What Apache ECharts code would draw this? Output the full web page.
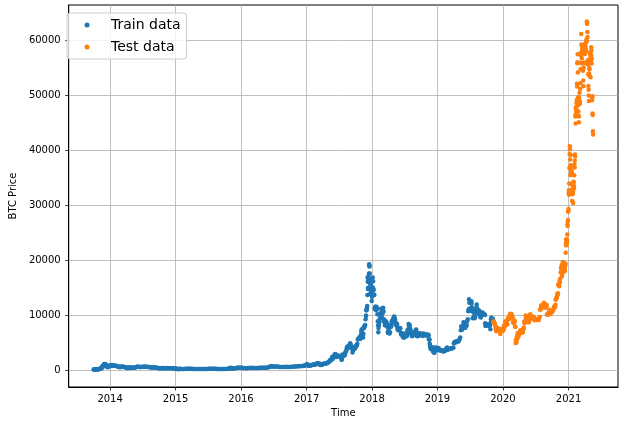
<!DOCTYPE html>
<html><head><meta charset="utf-8">
<script src="https://cdn.jsdelivr.net/npm/echarts@6/dist/echarts.min.js"></script>
<style>html,body{margin:0;padding:0;background:#fff}#c{width:624px;height:425px}</style>
</head><body><div id="c"></div>
<script>
// ---- data (BTC price) ----
const train2013 = [["2013-10-01",123],["2013-10-04",121],["2013-10-07",122],["2013-10-10",125],["2013-10-13",131],["2013-10-16",142],["2013-10-19",150],["2013-10-22",176],["2013-10-25",180],["2013-10-28",196],["2013-10-31",203],
["2013-11-03",218],["2013-11-06",255],["2013-11-09",330],["2013-11-12",355],["2013-11-14",420],["2013-11-16",450],["2013-11-18",700],["2013-11-19",560],["2013-11-21",740],["2013-11-23",820],["2013-11-25",790],["2013-11-27",960],["2013-11-29",1120],
["2013-12-01",950],["2013-12-03",1050],["2013-12-04",1150],["2013-12-06",850],["2013-12-08",720],["2013-12-10",980],["2013-12-12",870],["2013-12-14",870],["2013-12-16",690],["2013-12-18",530],["2013-12-20",640],["2013-12-22",620],["2013-12-25",680],["2013-12-28",720],["2013-12-31",760]];
const train2014 = [["2014-01-01",770],["2014-01-05",930],["2014-01-08",850],["2014-01-12",870],["2014-01-16",840],["2014-01-20",870],["2014-01-24",820],["2014-01-28",830],
["2014-02-02",830],["2014-02-06",770],["2014-02-10",690],["2014-02-14",660],["2014-02-18",620],["2014-02-22",610],["2014-02-25",540],["2014-02-28",580],
["2014-03-04",670],["2014-03-08",630],["2014-03-12",630],["2014-03-16",630],["2014-03-20",590],["2014-03-24",580],["2014-03-28",480],
["2014-04-01",480],["2014-04-05",460],["2014-04-10",360],["2014-04-14",460],["2014-04-18",500],["2014-04-22",490],["2014-04-26",460],["2014-04-30",450],
["2014-05-04",440],["2014-05-08",445],["2014-05-12",440],["2014-05-16",450],["2014-05-20",490],["2014-05-24",520],["2014-05-28",580],
["2014-06-03",665],["2014-06-08",650],["2014-06-13",600],["2014-06-18",610],["2014-06-23",590],["2014-06-28",600],
["2014-07-03",650],["2014-07-08",620],["2014-07-13",630],["2014-07-18",630],["2014-07-23",620],["2014-07-28",590],
["2014-08-02",590],["2014-08-07",590],["2014-08-12",570],["2014-08-18",470],["2014-08-23",510],["2014-08-28",510],
["2014-09-02",480],["2014-09-07",480],["2014-09-12",480],["2014-09-17",460],["2014-09-22",400],["2014-09-27",400],
["2014-10-02",375],["2014-10-06",330],["2014-10-11",360],["2014-10-16",395],["2014-10-21",385],["2014-10-26",355],["2014-10-31",340],
["2014-11-05",340],["2014-11-10",360],["2014-11-13",420],["2014-11-18",380],["2014-11-23",370],["2014-11-28",375],
["2014-12-03",375],["2014-12-08",360],["2014-12-13",345],["2014-12-18",320],["2014-12-23",335],["2014-12-28",320]];
const train2015 = [["2015-01-01",315],["2015-01-05",275],["2015-01-10",275],["2015-01-14",178],["2015-01-18",210],["2015-01-22",230],["2015-01-26",270],["2015-01-30",230],
["2015-02-06",220],["2015-02-13",235],["2015-02-20",245],["2015-02-27",255],["2015-03-06",275],["2015-03-13",285],["2015-03-20",260],["2015-03-27",250],
["2015-04-03",255],["2015-04-10",240],["2015-04-17",222],["2015-04-24",230],["2015-05-01",234],["2015-05-08",243],["2015-05-15",237],["2015-05-22",240],["2015-05-29",237],
["2015-06-05",225],["2015-06-12",230],["2015-06-19",245],["2015-06-26",243],["2015-07-03",255],["2015-07-10",285],["2015-07-17",280],["2015-07-24",288],["2015-07-31",284],
["2015-08-07",279],["2015-08-14",265],["2015-08-18",230],["2015-08-21",235],["2015-08-28",230],["2015-09-04",230],["2015-09-11",240],["2015-09-18",232],["2015-09-25",235],
["2015-10-02",237],["2015-10-09",244],["2015-10-16",262],["2015-10-23",277],["2015-10-30",326],["2015-11-03",400],["2015-11-04",450],["2015-11-06",380],["2015-11-11",310],["2015-11-15",330],["2015-11-20",320],["2015-11-27",360],
["2015-12-04",363],["2015-12-11",450],["2015-12-15",460],["2015-12-18",460],["2015-12-25",455],["2015-12-31",430]];
const train2016 = [["2016-01-01",430],["2016-01-08",450],["2016-01-15",380],["2016-01-22",390],["2016-01-29",380],["2016-02-05",380],["2016-02-12",390],["2016-02-19",420],["2016-02-26",430],
["2016-03-04",410],["2016-03-11",420],["2016-03-18",410],["2016-03-25",415],["2016-04-01",415],["2016-04-08",420],["2016-04-15",430],["2016-04-22",450],["2016-04-29",455],
["2016-05-06",460],["2016-05-13",455],["2016-05-20",440],["2016-05-27",470],["2016-06-03",570],["2016-06-10",580],["2016-06-13",700],["2016-06-17",750],["2016-06-20",730],["2016-06-24",660],["2016-06-30",670],
["2016-07-07",640],["2016-07-14",660],["2016-07-21",665],["2016-07-28",655],["2016-08-04",575],["2016-08-11",590],["2016-08-18",575],["2016-08-25",580],
["2016-09-01",575],["2016-09-08",620],["2016-09-15",610],["2016-09-22",595],["2016-09-29",605],["2016-10-06",612],["2016-10-13",637],["2016-10-20",630],["2016-10-27",690],
["2016-11-03",690],["2016-11-10",715],["2016-11-17",740],["2016-11-24",740],["2016-12-01",750],["2016-12-08",770],["2016-12-15",780],["2016-12-20",800],["2016-12-23",920],["2016-12-27",930]];
const train2017 = [["2017-01-01",1000],["2017-01-04",1130],["2017-01-05",1000],["2017-01-07",900],["2017-01-10",900],["2017-01-13",810],["2017-01-16",830],["2017-01-19",900],["2017-01-22",920],["2017-01-25",890],["2017-01-28",920],["2017-01-31",970],
["2017-02-03",1020],["2017-02-07",1060],["2017-02-11",1000],["2017-02-15",1010],["2017-02-19",1050],["2017-02-23",1190],["2017-02-27",1190],
["2017-03-02",1260],["2017-03-06",1280],["2017-03-10",1120],["2017-03-14",1240],["2017-03-18",970],["2017-03-22",1050],["2017-03-26",970],["2017-03-30",1040],
["2017-04-03",1140],["2017-04-07",1190],["2017-04-11",1210],["2017-04-15",1180],["2017-04-19",1210],["2017-04-23",1250],["2017-04-27",1340],["2017-04-30",1350],
["2017-05-03",1480],["2017-05-07",1570],["2017-05-11",1820],["2017-05-15",1720],["2017-05-19",1970],["2017-05-22",2170],["2017-05-24",2450],["2017-05-25",2300],["2017-05-27",2050],["2017-05-29",2290],["2017-05-31",2300],
["2017-06-03",2520],["2017-06-06",2860],["2017-06-09",2820],["2017-06-11",2970],["2017-06-13",2700],["2017-06-15",2430],["2017-06-18",2560],["2017-06-21",2720],["2017-06-24",2550],["2017-06-27",2580],["2017-06-30",2480],
["2017-07-03",2590],["2017-07-06",2610],["2017-07-09",2520],["2017-07-12",2360],["2017-07-15",1970],["2017-07-16",1930],["2017-07-18",2320],["2017-07-20",2850],["2017-07-23",2750],["2017-07-26",2570],["2017-07-29",2720],["2017-07-31",2870],
["2017-08-02",2720],["2017-08-05",3250],["2017-08-08",3410],["2017-08-11",3650],["2017-08-13",4100],["2017-08-15",4180],["2017-08-17",4300],["2017-08-20",4100],["2017-08-23",4150],["2017-08-26",4350],["2017-08-29",4600],["2017-08-31",4740],
["2017-09-01",4900],["2017-09-03",4600],["2017-09-05",4600],["2017-09-08",4300],["2017-09-11",4200],["2017-09-13",3900],["2017-09-14",3250],["2017-09-15",3700],["2017-09-17",3700],["2017-09-20",3900],["2017-09-23",3800],["2017-09-26",3900],["2017-09-29",4200],
["2017-10-02",4400],["2017-10-05",4300],["2017-10-08",4600],["2017-10-11",4800],["2017-10-13",5600],["2017-10-16",5700],["2017-10-19",5700],["2017-10-22",6000],["2017-10-25",5750],["2017-10-28",5750],["2017-10-31",6450],
["2017-11-02",7100],["2017-11-04",7400],["2017-11-06",6950],["2017-11-08",7450],["2017-11-10",6600],["2017-11-12",5950],["2017-11-14",6600],["2017-11-16",7850],["2017-11-18",7700],["2017-11-20",8000],["2017-11-22",8100],["2017-11-24",8250],["2017-11-26",9300],["2017-11-28",9900],["2017-11-29",9900],["2017-11-30",10900],
["2017-12-01",10900],["2017-12-03",11200],["2017-12-04",11500],["2017-12-05",11700],["2017-12-06",13700],["2017-12-07",16900],["2017-12-08",16100],["2017-12-09",14800],["2017-12-10",15000],["2017-12-11",16700],["2017-12-12",17100],["2017-12-13",16300],["2017-12-14",16400],["2017-12-15",17600],["2017-12-16",19300],["2017-12-17",19000],["2017-12-18",18900],["2017-12-19",17600],["2017-12-20",16600],["2017-12-21",15700],["2017-12-22",13900],["2017-12-23",14600],["2017-12-24",13900],["2017-12-25",14000],["2017-12-26",15800],["2017-12-27",15400],["2017-12-28",14400],["2017-12-29",14500],["2017-12-30",12600],["2017-12-31",13900]];
const train2018 = [["2018-01-01",13400],["2018-01-03",15100],["2018-01-05",16900],["2018-01-07",16200],["2018-01-08",14900],["2018-01-10",14600],["2018-01-12",13800],["2018-01-14",13700],["2018-01-16",11200],["2018-01-17",11300],["2018-01-19",11500],["2018-01-21",11600],["2018-01-23",10900],["2018-01-25",11200],["2018-01-27",11500],["2018-01-29",11200],["2018-01-31",10200],
["2018-02-02",8900],["2018-02-04",8200],["2018-02-05",6900],["2018-02-06",7700],["2018-02-08",8200],["2018-02-10",8600],["2018-02-12",8900],["2018-02-14",9500],["2018-02-16",10200],["2018-02-18",10400],["2018-02-20",11200],["2018-02-22",10000],["2018-02-24",9600],["2018-02-26",10300],["2018-02-28",10300],
["2018-03-02",11000],["2018-03-04",11400],["2018-03-06",10700],["2018-03-08",9300],["2018-03-10",8800],["2018-03-12",8900],["2018-03-14",8200],["2018-03-16",8300],["2018-03-18",8200],["2018-03-20",8900],["2018-03-22",8700],["2018-03-24",8500],["2018-03-26",8200],["2018-03-28",7900],["2018-03-30",6900],
["2018-04-01",6800],["2018-04-03",7400],["2018-04-05",6800],["2018-04-07",7000],["2018-04-09",6700],["2018-04-11",6900],["2018-04-13",7900],["2018-04-15",8300],["2018-04-17",7900],["2018-04-19",8200],["2018-04-21",8900],["2018-04-23",8900],["2018-04-25",8800],["2018-04-27",8900],["2018-04-29",9400],
["2018-05-01",9100],["2018-05-03",9700],["2018-05-05",9800],["2018-05-07",9400],["2018-05-09",9300],["2018-05-11",8500],["2018-05-13",8700],["2018-05-15",8500],["2018-05-17",8100],["2018-05-19",8200],["2018-05-21",8400],["2018-05-23",7500],["2018-05-25",7500],["2018-05-27",7300],["2018-05-29",7500],["2018-05-31",7500],
["2018-06-02",7600],["2018-06-04",7500],["2018-06-06",7700],["2018-06-08",7600],["2018-06-10",6800],["2018-06-12",6500],["2018-06-14",6600],["2018-06-16",6500],["2018-06-18",6700],["2018-06-20",6700],["2018-06-22",6050],["2018-06-24",6100],["2018-06-26",6200],["2018-06-28",5900],["2018-06-30",6400],
["2018-07-02",6600],["2018-07-04",6600],["2018-07-06",6600],["2018-07-08",6700],["2018-07-10",6300],["2018-07-12",6200],["2018-07-14",6250],["2018-07-16",6700],["2018-07-18",7300],["2018-07-20",7400],["2018-07-22",7400],["2018-07-24",8400],["2018-07-26",8200],["2018-07-28",8200],["2018-07-30",8200],
["2018-08-01",7600],["2018-08-03",7400],["2018-08-05",7000],["2018-08-07",6700],["2018-08-09",6500],["2018-08-11",6300],["2018-08-13",6200],["2018-08-15",6300],["2018-08-17",6600],["2018-08-19",6500],["2018-08-21",6500],["2018-08-23",6500],["2018-08-25",6700],["2018-08-27",6900],["2018-08-29",7050],["2018-08-31",7000],
["2018-09-02",7300],["2018-09-04",7400],["2018-09-05",7000],["2018-09-07",6500],["2018-09-09",6200],["2018-09-11",6300],["2018-09-13",6500],["2018-09-15",6500],["2018-09-17",6250],["2018-09-19",6350],["2018-09-21",6750],["2018-09-23",6700],["2018-09-25",6400],["2018-09-27",6700],["2018-09-29",6600],
["2018-10-01",6600],["2018-10-04",6550],["2018-10-07",6600],["2018-10-10",6550],["2018-10-11",6250],["2018-10-14",6400],["2018-10-15",6700],["2018-10-18",6500],["2018-10-21",6500],["2018-10-24",6450],["2018-10-27",6450],["2018-10-30",6300],
["2018-11-01",6350],["2018-11-04",6450],["2018-11-07",6500],["2018-11-10",6400],["2018-11-13",6350],["2018-11-14",5650],["2018-11-16",5600],["2018-11-18",5550],["2018-11-19",4800],["2018-11-20",4450],["2018-11-22",4300],["2018-11-24",3900],["2018-11-25",4000],["2018-11-27",3850],["2018-11-29",4200],
["2018-12-01",4200],["2018-12-03",3800],["2018-12-05",3700],["2018-12-07",3400],["2018-12-09",3600],["2018-12-11",3400],["2018-12-13",3250],["2018-12-15",3200],["2018-12-17",3500],["2018-12-19",3750],["2018-12-20",4150],["2018-12-22",3950],["2018-12-24",4100],["2018-12-26",3800],["2018-12-28",3900],["2018-12-30",3850]];
const train2019 = [["2019-01-01",3800],["2019-01-05",3830],["2019-01-08",4030],["2019-01-10",3630],["2019-01-14",3660],["2019-01-18",3620],["2019-01-22",3590],["2019-01-26",3580],["2019-01-30",3460],
["2019-02-02",3500],["2019-02-06",3400],["2019-02-09",3650],["2019-02-13",3600],["2019-02-17",3650],["2019-02-19",3920],["2019-02-23",4130],["2019-02-24",3740],["2019-02-28",3810],
["2019-03-03",3810],["2019-03-07",3870],["2019-03-11",3870],["2019-03-15",3950],["2019-03-19",4010],["2019-03-23",3990],["2019-03-27",4030],["2019-03-31",4100],
["2019-04-02",4880],["2019-04-05",5030],["2019-04-09",5180],["2019-04-13",5070],["2019-04-17",5230],["2019-04-21",5330],["2019-04-25",5230],["2019-04-29",5270],
["2019-05-01",5400],["2019-05-05",5720],["2019-05-08",5950],["2019-05-11",7280],["2019-05-14",7990],["2019-05-16",7870],["2019-05-18",7350],["2019-05-22",7960],["2019-05-26",8750],["2019-05-29",8650],
["2019-06-01",8570],["2019-06-04",7690],["2019-06-07",8010],["2019-06-10",8020],["2019-06-13",8240],["2019-06-16",8950],["2019-06-19",9280],["2019-06-22",10750],["2019-06-24",11050],["2019-06-26",12930],["2019-06-27",11170],["2019-06-28",12300],["2019-06-30",10820],
["2019-07-02",10900],["2019-07-04",11270],["2019-07-06",11000],["2019-07-09",12570],["2019-07-10",12100],["2019-07-13",11360],["2019-07-15",10880],["2019-07-16",9470],["2019-07-18",10640],["2019-07-21",10550],["2019-07-24",9880],["2019-07-27",9480],["2019-07-30",9590],
["2019-08-01",10400],["2019-08-03",10900],["2019-08-06",11450],["2019-08-08",11980],["2019-08-10",11290],["2019-08-13",10850],["2019-08-15",10320],["2019-08-17",10220],["2019-08-20",10900],["2019-08-22",10130],["2019-08-25",10130],["2019-08-28",9730],["2019-08-31",9600],
["2019-09-02",10390],["2019-09-05",10580],["2019-09-08",10400],["2019-09-11",10150],["2019-09-14",10360],["2019-09-17",10200],["2019-09-20",10170],["2019-09-23",10050],["2019-09-24",8540],["2019-09-26",8050],["2019-09-28",8220],["2019-09-30",8300],
["2019-10-02",8370],["2019-10-05",8140],["2019-10-08",8220],["2019-10-11",8320],["2019-10-14",8330],["2019-10-17",8070],["2019-10-20",8210],["2019-10-23",7470],["2019-10-25",8650],["2019-10-26",9240],["2019-10-28",9550],["2019-10-30",9200],
["2019-11-01",9260],["2019-11-04",9410],["2019-11-07",9200]];
const test2019 = [["2019-11-08",8800],["2019-11-10",8860],["2019-11-12",8810],["2019-11-14",8640],["2019-11-16",8500],["2019-11-18",8170],["2019-11-20",8100],["2019-11-22",7600],["2019-11-23",7280],["2019-11-25",7100],["2019-11-27",7520],["2019-11-29",7750],
["2019-12-01",7430],["2019-12-03",7320],["2019-12-05",7550],["2019-12-07",7530],["2019-12-09",7340],["2019-12-11",7230],["2019-12-13",7270],["2019-12-15",7080],["2019-12-17",6620],["2019-12-18",7300],["2019-12-20",7190],["2019-12-22",7500],["2019-12-24",7330],["2019-12-26",7210],["2019-12-28",7310],["2019-12-30",7270]];
const test2020 = [["2020-01-01",7200],["2020-01-03",7340],["2020-01-05",7420],["2020-01-07",8160],["2020-01-09",7830],["2020-01-11",8020],["2020-01-14",8830],["2020-01-16",8720],["2020-01-18",8920],["2020-01-20",8650],["2020-01-22",8670],["2020-01-24",8430],["2020-01-26",8330],["2020-01-28",9390],["2020-01-30",9500],
["2020-02-01",9390],["2020-02-03",9300],["2020-02-05",9610],["2020-02-07",9800],["2020-02-09",10160],["2020-02-11",10270],["2020-02-13",10240],["2020-02-15",9920],["2020-02-17",9700],["2020-02-19",10190],["2020-02-20",9620],["2020-02-22",9690],["2020-02-24",9670],["2020-02-26",8800],["2020-02-28",8700],
["2020-03-01",8550],["2020-03-03",8760],["2020-03-05",9070],["2020-03-07",8910],["2020-03-09",7940],["2020-03-11",7910],["2020-03-12",4970],["2020-03-13",5560],["2020-03-15",5360],["2020-03-16",5030],["2020-03-17",5330],["2020-03-19",6180],["2020-03-20",6210],["2020-03-22",5830],["2020-03-24",6740],["2020-03-26",6760],["2020-03-28",6250],["2020-03-30",6430],
["2020-04-01",6640],["2020-04-03",6770],["2020-04-05",6780],["2020-04-07",7200],["2020-04-09",7300],["2020-04-11",6860],["2020-04-14",6850],["2020-04-16",7090],["2020-04-19",7120],["2020-04-21",6860],["2020-04-23",7480],["2020-04-25",7550],["2020-04-27",7790],["2020-04-29",8780],["2020-04-30",8620],
["2020-05-01",8830],["2020-05-03",8900],["2020-05-05",9010],["2020-05-07",9970],["2020-05-09",9540],["2020-05-10",8730],["2020-05-12",8820],["2020-05-14",9790],["2020-05-17",9670],["2020-05-19",9730],["2020-05-21",9080],["2020-05-24",8720],["2020-05-26",8840],["2020-05-29",9410],["2020-05-31",9450],
["2020-06-01",10200],["2020-06-02",9520],["2020-06-04",9790],["2020-06-07",9760],["2020-06-10",9890],["2020-06-13",9470],["2020-06-16",9520],["2020-06-19",9300],["2020-06-22",9690],["2020-06-25",9250],["2020-06-28",9120],
["2020-07-01",9230],["2020-07-04",9140],["2020-07-07",9250],["2020-07-10",9240],["2020-07-13",9240],["2020-07-16",9130],["2020-07-19",9160],["2020-07-22",9540],["2020-07-25",9700],["2020-07-27",11000],["2020-07-29",11110],["2020-07-31",11350],
["2020-08-01",11800],["2020-08-03",11230],["2020-08-05",11760],["2020-08-08",11680],["2020-08-10",11880],["2020-08-12",11580],["2020-08-15",11880],["2020-08-17",12290],["2020-08-19",11760],["2020-08-22",11670],["2020-08-25",11370],["2020-08-28",11540],["2020-08-31",11650],
["2020-09-01",11920],["2020-09-03",10170],["2020-09-05",10250],["2020-09-08",10120],["2020-09-10",10370],["2020-09-13",10330],["2020-09-16",10950],["2020-09-18",10940],["2020-09-21",10420],["2020-09-23",10230],["2020-09-26",10730],["2020-09-29",10840],
["2020-10-01",10620],["2020-10-05",10790],["2020-10-08",10930],["2020-10-10",11300],["2020-10-12",11550],["2020-10-15",11500],["2020-10-18",11500],["2020-10-20",11920],["2020-10-21",12820],["2020-10-22",12990],["2020-10-24",13120],["2020-10-26",13050],["2020-10-28",13270],["2020-10-30",13800],["2020-10-31",13780],
["2020-11-01",13740],["2020-11-03",14030],["2020-11-05",15590],["2020-11-06",15580],["2020-11-08",15480],["2020-11-10",15300],["2020-11-12",16290],["2020-11-14",15960],["2020-11-16",16720],["2020-11-18",17800],["2020-11-20",18660],["2020-11-22",18400],["2020-11-24",19160],["2020-11-26",17150],["2020-11-28",17720],["2020-11-30",19700],
["2020-12-01",18800],["2020-12-02",19200],["2020-12-03",19450],["2020-12-04",18700],["2020-12-05",19150],["2020-12-06",19360],["2020-12-07",19170],["2020-12-08",18320],["2020-12-09",18550],["2020-12-10",18250],["2020-12-11",18040],["2020-12-12",18800],["2020-12-13",19170],["2020-12-14",19270],["2020-12-15",19440],["2020-12-16",21380],["2020-12-17",22800],["2020-12-18",23150],["2020-12-19",23870],["2020-12-20",23480],["2020-12-21",22750],["2020-12-22",23820],["2020-12-23",23240],["2020-12-24",23730],["2020-12-25",24710],["2020-12-26",26490],["2020-12-27",26280],["2020-12-28",27080],["2020-12-29",27360],["2020-12-30",28840],["2020-12-31",29000]];
const test2021 = [["2021-01-01",29374],["2021-01-02",32127],["2021-01-03",32782],["2021-01-04",31971],["2021-01-05",33992],["2021-01-06",36824],["2021-01-07",39371],["2021-01-08",40797],["2021-01-09",40254],["2021-01-10",38356],["2021-01-11",35566],["2021-01-12",33922],["2021-01-13",37316],["2021-01-14",39187],["2021-01-15",36825],["2021-01-16",36178],["2021-01-17",35792],["2021-01-18",36630],["2021-01-19",36069],["2021-01-20",35548],["2021-01-21",30825],["2021-01-22",33005],["2021-01-23",32067],["2021-01-24",32289],["2021-01-25",32366],["2021-01-26",32569],["2021-01-27",30432],["2021-01-28",33466],["2021-01-29",34316],["2021-01-30",34269],["2021-01-31",33114],
["2021-02-01",33538],["2021-02-02",35510],["2021-02-03",37472],["2021-02-04",36926],["2021-02-05",38144],["2021-02-06",39266],["2021-02-07",38903],["2021-02-08",46196],["2021-02-09",46481],["2021-02-10",44918],["2021-02-11",47910],["2021-02-12",47504],["2021-02-13",47105],["2021-02-14",48717],["2021-02-15",47945],["2021-02-16",49199],["2021-02-17",52149],["2021-02-18",51679],["2021-02-19",55888],["2021-02-20",56099],["2021-02-21",57539],["2021-02-22",54207],["2021-02-23",48824],["2021-02-24",49705],["2021-02-25",47093],["2021-02-26",46339],["2021-02-27",46188],["2021-02-28",45137],
["2021-03-01",49631],["2021-03-02",48378],["2021-03-03",50538],["2021-03-04",48561],["2021-03-05",48927],["2021-03-06",48912],["2021-03-07",51206],["2021-03-08",52246],["2021-03-09",54824],["2021-03-10",56008],["2021-03-11",57805],["2021-03-12",57332],["2021-03-13",61243],["2021-03-14",59302],["2021-03-15",55907],["2021-03-16",56804],["2021-03-17",58870],["2021-03-18",57858],["2021-03-19",58346],["2021-03-20",58313],["2021-03-21",57523],["2021-03-22",54529],["2021-03-23",54738],["2021-03-24",52774],["2021-03-25",51704],["2021-03-26",55137],["2021-03-27",55974],["2021-03-28",55947],["2021-03-29",57750],["2021-03-30",58917],["2021-03-31",58918],
["2021-04-01",59095],["2021-04-02",59384],["2021-04-03",57604],["2021-04-04",58758],["2021-04-05",59057],["2021-04-06",58192],["2021-04-07",56048],["2021-04-08",58323],["2021-04-09",58245],["2021-04-10",59793],["2021-04-11",60204],["2021-04-12",59893],["2021-04-13",63503],["2021-04-14",63109],["2021-04-15",63314],["2021-04-16",61572],["2021-04-17",60683],["2021-04-18",56216],["2021-04-19",55724],["2021-04-20",56473],["2021-04-21",53906],["2021-04-22",51762],["2021-04-23",51093],["2021-04-24",50050],["2021-04-25",49004],["2021-04-26",54021],["2021-04-27",55033],["2021-04-28",54824],["2021-04-29",53555],["2021-04-30",57750],
["2021-05-01",57828],["2021-05-02",56631],["2021-05-03",57200],["2021-05-04",53333],["2021-05-05",57424],["2021-05-06",56396],["2021-05-07",57356],["2021-05-08",58803],["2021-05-09",58232],["2021-05-10",55859],["2021-05-11",56704],["2021-05-12",49150],["2021-05-13",49716],["2021-05-14",49880],["2021-05-15",46760],["2021-05-16",46456],["2021-05-17",43538],["2021-05-18",42910]];

const xTickYears = [2014, 2015, 2016, 2017, 2018, 2019, 2020, 2021];
const yTicks = [0, 10000, 20000, 30000, 40000, 50000, 60000];
const seriesNames = ['Train data', 'Test data'];

// ---- chart ----
function ts(s) { const p = s.split('-'); return new Date(+p[0], +p[1] - 1, +p[2]).getTime(); }
const toPts = arr => arr.map(d => [ts(d[0]), d[1]]);
const trainData = toPts([].concat(train2013, train2014, train2015, train2016, train2017, train2018, train2019));
const testData = toPts([].concat(test2019, test2020, test2021));
const xTickValues = xTickYears.map(y => new Date(y, 0, 1).getTime());
const FONT = 'DejaVu Sans';

const chart = echarts.init(document.getElementById('c'), null, {renderer: 'canvas'});
chart.setOption({
  animation: false,
  backgroundColor: '#ffffff',
  grid: {left: 60, right: 6, top: 5, bottom: 38, show: true, borderColor: '#000', borderWidth: 1, backgroundColor: 'transparent'},
  legend: {
    left: 67, top: 13, orient: 'vertical', icon: 'circle',
    itemWidth: 5, itemHeight: 5, itemGap: 4, padding: [3, 6, 3, 17.5],
    backgroundColor: 'rgba(255,255,255,0.8)', borderColor: '#cccccc', borderWidth: 1, borderRadius: 3,
    textStyle: {fontFamily: FONT, fontSize: 14, color: '#000', lineHeight: 18, padding: [0, 0, 0, 16.5]},
    data: seriesNames
  },
  xAxis: {
    type: 'value',
    min: ts('2013-05-15'),
    max: ts('2021-10-04'),
    name: 'Time', nameLocation: 'middle', nameGap: 19,
    nameTextStyle: {fontFamily: FONT, fontSize: 10, color: '#000'},
    axisLine: {show: true, onZero: false, lineStyle: {color: '#000', width: 1}},
    axisTick: {show: true, length: 3.5, lineStyle: {color: '#000', width: 0.8}, customValues: xTickValues},
    axisLabel: {fontFamily: FONT, fontSize: 10, color: '#000', margin: 7, customValues: xTickValues,
      formatter: v => String(new Date(v).getFullYear())},
    splitLine: {show: true, lineStyle: {color: '#b0b0b0', width: 0.8}}
  },
  yAxis: {
    type: 'value', min: -3054, max: 66508,
    name: 'BTC Price', nameLocation: 'middle', nameGap: 43, nameRotate: 90,
    nameTextStyle: {fontFamily: FONT, fontSize: 10, color: '#000'},
    axisLine: {show: true, onZero: false, lineStyle: {color: '#000', width: 1}},
    axisTick: {show: true, length: 3.5, lineStyle: {color: '#000', width: 0.8}, customValues: yTicks},
    axisLabel: {fontFamily: FONT, fontSize: 10, color: '#000', margin: 8, customValues: yTicks,
      formatter: v => String(v)},
    splitLine: {show: true, lineStyle: {color: '#b0b0b0', width: 0.8}}
  },
  series: [
    {name: seriesNames[0], type: 'scatter', data: trainData, symbol: 'circle', symbolSize: 4.5,
     itemStyle: {color: '#1f77b4', opacity: 1}, emphasis: {disabled: true}, silent: true},
    {name: seriesNames[1], type: 'scatter', data: testData, symbol: 'circle', symbolSize: 4.5,
     itemStyle: {color: '#ff7f0e', opacity: 1}, emphasis: {disabled: true}, silent: true}
  ]
});
</script></body></html>
